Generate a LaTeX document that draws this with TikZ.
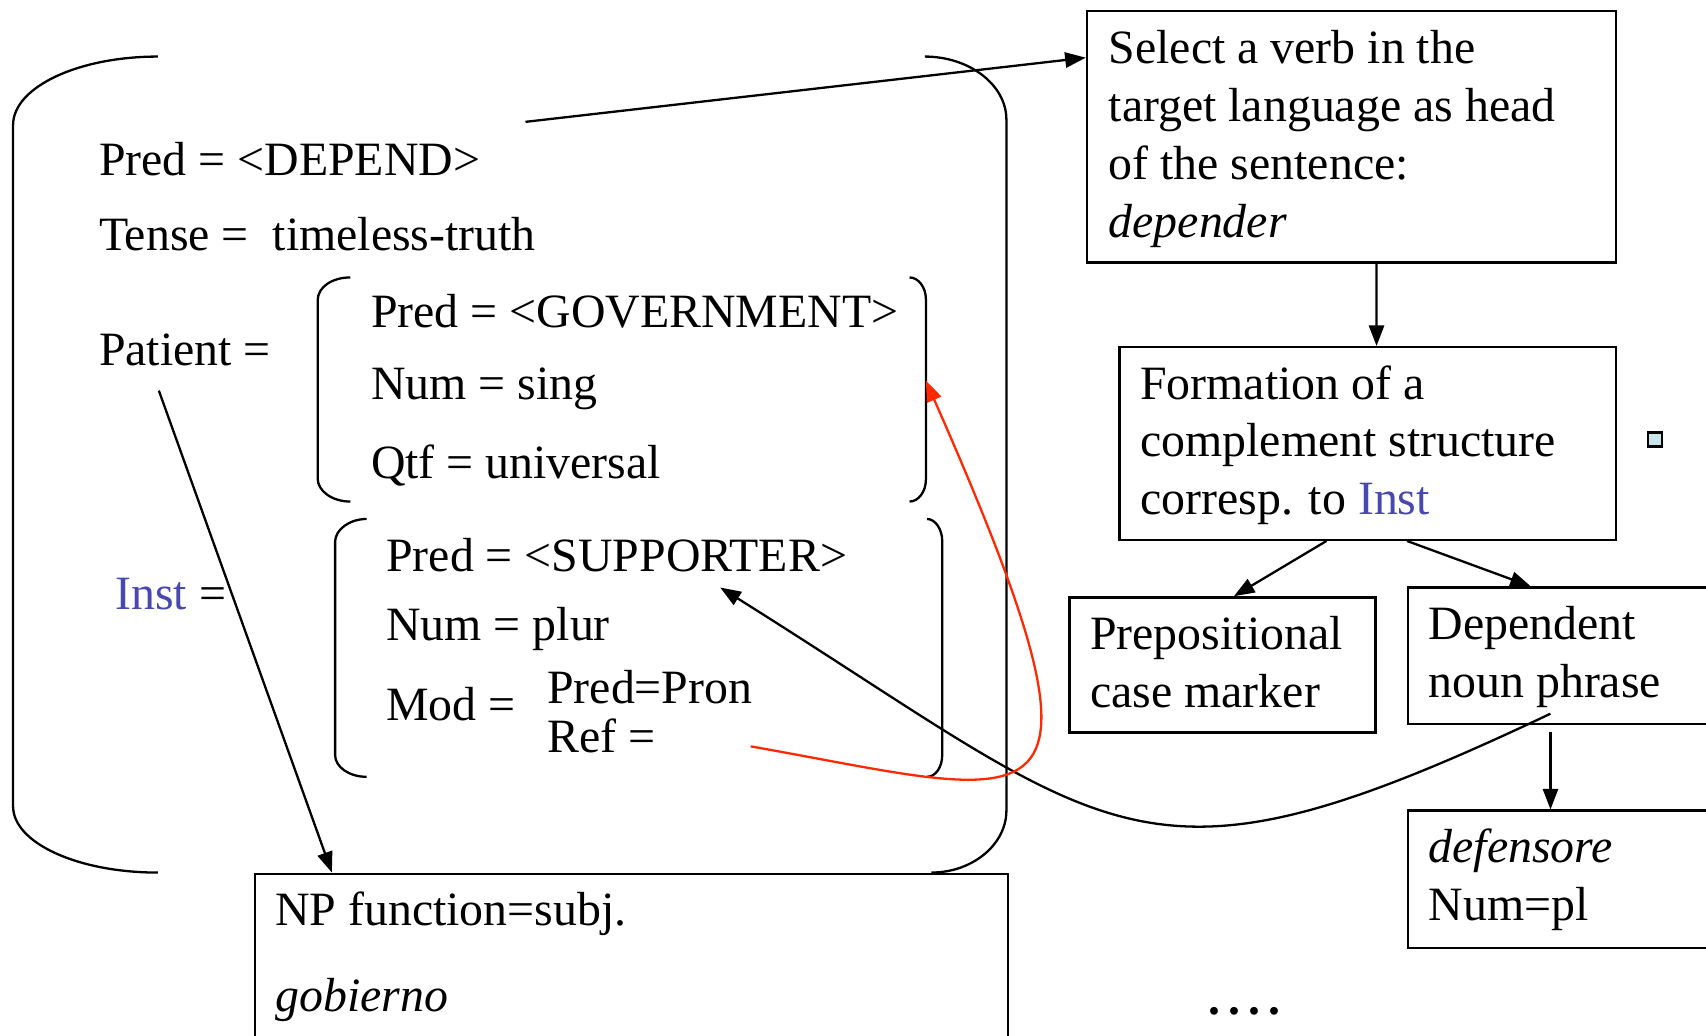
\documentclass[tikz,border=0pt]{standalone}
\usepackage{fontspec}
\setmainfont{Liberation Serif}
\usetikzlibrary{arrows.meta}
\definecolor{instblue}{RGB}{72,72,176}
\definecolor{refred}{RGB}{255,40,0}
\definecolor{markfill}{RGB}{200,230,234}

\begin{document}
\begin{tikzpicture}[x=0.01cm, y=-0.01cm, line width=0.6pt,
    font=\fontsize{12.5}{15.1}\selectfont,
    >={Triangle[length=0.19cm, width=0.14cm]}]
\def\txt{node [anchor=base west, inner sep=0, align=left] }
\def\rectbox#1#2{node [draw, anchor=north west, inner sep=0, minimum width=#1, minimum height=#2] }

\useasboundingbox (0,0) rectangle (1568,952);
\clip (0,0) rectangle (1568,952);

% outer brackets
\draw (145,52) .. controls (72,52) and (12,80) .. (12,115) -- (12,741) .. controls (12,775) and (72,802) .. (145,802);
\draw (850,52) .. controls (891,52) and (925,78) .. (925,110) -- (925,745) .. controls (925,776) and (894,802) .. (856,802);
% GOVERNMENT brackets
\draw (322,255) .. controls (305,255) and (292,264) .. (292,276) -- (292,440) .. controls (292,451) and (305,461) .. (322,461);
\draw (836,255) .. controls (844,255) and (851,264) .. (851,275) -- (851,441) .. controls (851,452) and (844,461) .. (836,461);
% SUPPORTER brackets
\draw (337,477) .. controls (321,477) and (308,487) .. (308,498) -- (308,694) .. controls (308,705) and (321,714) .. (337,714);
\draw (852,477) .. controls (860,477) and (866,487) .. (866,497) -- (866,694) .. controls (866,705) and (860,714) .. (852,714);

\draw (90,161) \txt (pred) {Pred = <DEPEND>};
\draw (90,230) \txt (tense) {Tense = \ timeless-truth};
\draw (90,336) \txt (patient) {Patient =};
\draw (105,560) \txt (inst) {\textcolor{instblue}{Inst} =};
\draw (340,301) \txt (gpred) {Pred = <GOVERNMENT>};
\draw (340,367) \txt (gnum) {Num = sing};
\draw (340,440) \txt (gqtf) {Qtf = universal};
\draw (354,525) \txt (spred) {Pred = <SUPPORTER>};
\draw (354,589) \txt (snum) {Num = plur};
\draw (354,662) \txt (smod) {Mod =};
\draw (502,647) \txt (mpred) {Pred=Pron};
\draw (502,692) \txt (mref) {Ref =};

\draw (233,802) \rectbox{6.92cm}{2cm} (np) {};
\draw (252,851) \txt (npfun) {NP function=subj.};
\draw (252,930) \txt (npword) {\textit{gobierno}};

% base of a multi-line text is its last line
\draw (998,9) \rectbox{4.86cm}{2.31cm} (select) {};
\draw (1018,218) \txt (selecttxt) {Select a verb in the\\target language as head\\of the sentence:\\\textit{depender}};
\draw (1028,318) \rectbox{4.56cm}{1.77cm} (formation) {};
\draw (1047,473) \txt (formtxt) {Formation of a\\complement structure\\corresp. to \textcolor{instblue}{Inst}};
\draw (982,548) \rectbox{2.81cm}{1.24cm} (prep) {};
\draw (1001,650) \txt (preptxt) {Prepositional\\case marker};
\draw (1293,539) \rectbox{3.2cm}{1.25cm} (dep) {};
\draw (1312,641) \txt (deptxt) {Dependent\\noun phrase};
\draw (1293,744) \rectbox{3.2cm}{1.26cm} (defens) {};
\draw (1312,846) \txt (defenstxt) {\textit{defensore}\\Num=pl};

\draw (1521,404) node [draw, fill=markfill, minimum size=.13cm, inner sep=0] (mark) {};
\draw (1110,932) \txt (dots) {\textbf{.\,.\,.\,.}};

\coordinate (verb) at (483,112);
\coordinate (verbin) at (998,53);
\coordinate (pat) at (146,359);
\coordinate (dnp) at (1425,656);
\coordinate (sup) at (662,540);
\coordinate (ref) at (690,686);
\coordinate (gov) at (851,350);

\draw [->] (verb) -- (verbin);
\draw [->] (pat) -- ([xshift=.72cm]np.north west);
\draw [->] ([xshift=.23cm]select.south) -- ([xshift=.08cm]formation.north);
\draw [->] ([xshift=-.38cm]formation.south) -- ([xshift=1.52cm]prep.north west);
\draw [->] ([xshift=.36cm]formation.south) -- ([xshift=1.14cm]dep.north west);
\draw [->] ([xshift=1.32cm, yshift=-.07cm]dep.south west) -- ([xshift=1.32cm]defens.north west);
\draw [->] (dnp) .. controls (1045,836) and (1029,770) .. (sup);
\draw [->, refred] (ref) .. controls (962,734) and (1041,781) .. (gov);
\end{tikzpicture}
\end{document}
